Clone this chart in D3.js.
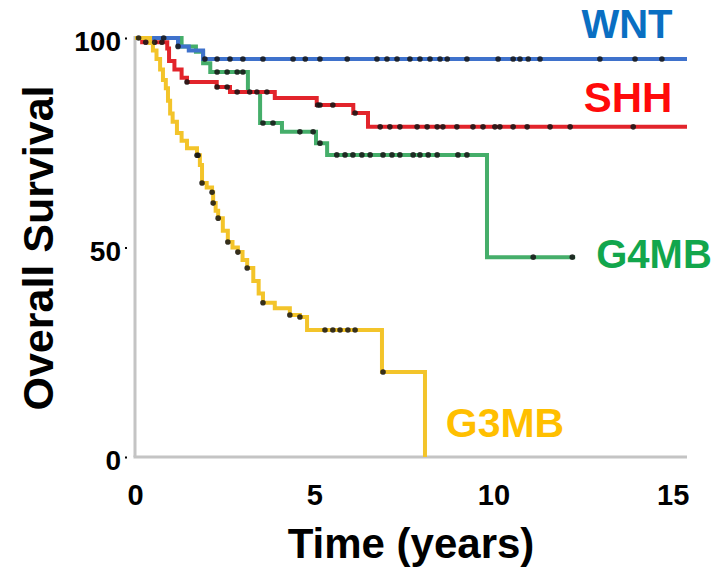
<!DOCTYPE html>
<html>
<head>
<meta charset="utf-8">
<script src="https://cdn.jsdelivr.net/npm/d3@7"></script>
<style>
  html, body { margin: 0; padding: 0; background: #ffffff; }
  svg { display: block; }
  text { font-family: "Liberation Sans", Arial, sans-serif; font-weight: bold; }
</style>
</head>
<body>
<svg id="chart" width="719" height="573"></svg>
<script>
// ---------------- data ----------------
const categories = ["WNT", "SHH", "G4MB", "G3MB"];

const wntTime = [0, 1.2, 1.5, 1.9];
const wntSurv = [100, 98, 97, 95];
const wntCensor = [0.1, 0.8, 1.2, 1.95, 2.29, 2.65, 3.01, 3.57, 4.41, 4.75, 5.16, 5.92, 6.75, 7.03, 7.31, 7.67, 7.95, 8.23, 8.51, 8.71, 9.26, 10.13, 10.55, 10.74, 10.97, 11.3, 12.97, 13.95, 14.7];

const shhTime = [0, 0.2, 0.9, 0.95, 1.1, 1.3, 1.45, 2.28, 2.65, 3.9, 5.07, 6.09, 6.5];
const shhSurv = [100, 99, 97.5, 94.5, 92.5, 90.5, 89.5, 88.3, 87.1, 85.7, 84.0, 82.1, 78.8];
const shhCensor = [0.3, 0.55, 0.75, 1.45, 2.29, 2.57, 2.85, 3.2, 3.4, 3.68, 5.1, 5.16, 5.52, 6.14, 6.84, 7.11, 7.39, 7.87, 8.15, 8.43, 8.59, 8.98, 9.43, 9.71, 10.04, 10.18, 10.55, 10.94, 11.58, 12.14, 13.9];

const g4Time = [0, 1.3, 1.7, 1.9, 2.1, 3.15, 3.49, 4.1, 5.05, 5.36, 9.82];
const g4Surv = [100, 98, 96.7, 94, 91.9, 87.1, 79.7, 77.6, 74.9, 72.1, 47.7];
const g4Censor = [2.29, 2.57, 2.85, 3.01, 3.57, 3.85, 4.6, 4.97, 5.16, 5.63, 5.86, 6.08, 6.33, 6.56, 6.92, 7.17, 7.39, 7.76, 7.95, 8.18, 8.43, 9.01, 9.26, 11.11, 12.2];

const g3Time = [0, 0.42, 0.5, 0.6, 0.7, 0.78, 0.86, 0.92, 0.98, 1.05, 1.17, 1.3, 1.45, 1.73, 1.81, 1.87, 2.0, 2.15, 2.18, 2.25, 2.32, 2.45, 2.59, 2.72, 2.87, 3.0, 3.13, 3.3, 3.45, 3.57, 3.9, 4.32, 4.6, 4.8, 6.89, 8.09];
const g3Surv = [100, 98.8, 97, 95, 92.5, 90, 88, 85, 82, 80, 77.3, 75.5, 73.7, 72, 69.7, 65.4, 64.3, 63.2, 60.6, 58.8, 57, 54, 51.3, 50, 48.9, 47, 45.1, 42, 39, 36.8, 35.5, 33.9, 33.4, 30.3, 20.3, 0];
const g3Censor = [1.73, 1.76, 1.87, 2.15, 2.18, 2.32, 2.59, 2.87, 3.13, 3.57, 4.32, 4.6, 5.3, 5.52, 5.72, 5.94, 6.14, 6.92];

const seriesEnd = [15.4, 15.4, 12.28, 8.09];

const xTicks = [0, 5, 10, 15];
const yTicks = [0, 50, 100];
const xTitle = "Time (years)";
const yTitle = "Overall Survival";

// ---------------- build ----------------
const lineColors = {WNT: "#3f72cc", SHH: "#e2242b", G4MB: "#45ae6a", G3MB: "#f3c42a"};
const labelColors = {WNT: "#0a6fc2", SHH: "#ff0a0a", G4MB: "#12a64c", G3MB: "#ffbf00"};

const series = [
  {name: "WNT", time: wntTime, surv: wntSurv, censor: wntCensor, end: seriesEnd[0]},
  {name: "SHH", time: shhTime, surv: shhSurv, censor: shhCensor, end: seriesEnd[1]},
  {name: "G4MB", time: g4Time, surv: g4Surv, censor: g4Censor, end: seriesEnd[2]},
  {name: "G3MB", time: g3Time, surv: g3Surv, censor: g3Censor, end: seriesEnd[3]}
];

const svg = d3.select("#chart");
const x = d3.scaleLinear().domain([0, 15.4]).range([135, 687]);
const y = d3.scaleLinear().domain([0, 100]).range([457, 38]);

// axes lines
const axisG = svg.append("g");
axisG.append("line").attr("x1", x(0)).attr("x2", x(0)).attr("y1", y(100) - 2).attr("y2", y(0))
  .attr("stroke", "#c4c4c4").attr("stroke-width", 3);
axisG.append("line").attr("x1", x(0) - 1.5).attr("x2", x(15.4)).attr("y1", y(0)).attr("y2", y(0))
  .attr("stroke", "#c4c4c4").attr("stroke-width", 3);

// y ticks with d3 axis
const yAxis = d3.axisLeft(y).tickValues(yTicks).tickSize(2).tickPadding(4).tickFormat(d3.format("d"));
const yg = svg.append("g").attr("transform", `translate(${x(0) - 8},0)`).call(yAxis);
yg.select(".domain").remove();
yg.selectAll(".tick line").attr("stroke", "#000").attr("stroke-width", 2);
yg.selectAll(".tick text").attr("font-size", 28).attr("fill", "#000").attr("dy", "0.45em")
  .style("font-family", '"Liberation Sans", Arial, sans-serif').style("font-weight", "bold");

const xAxis = d3.axisBottom(x).tickValues(xTicks).tickSize(0).tickPadding(27).tickFormat(d3.format("d"));
const xg = svg.append("g").attr("transform", `translate(0,${y(0)})`).call(xAxis);
xg.select(".domain").remove();
xg.selectAll(".tick text").attr("font-size", 29).attr("fill", "#000")
  .style("font-family", '"Liberation Sans", Arial, sans-serif').style("font-weight", "bold");

// titles
svg.append("text").attr("x", 411).attr("y", 558).attr("text-anchor", "middle")
  .attr("font-size", 42).attr("fill", "#000").text(xTitle);
svg.append("text").attr("transform", `translate(53,248) rotate(-90)`).attr("text-anchor", "middle")
  .attr("font-size", 43).attr("fill", "#000").text(yTitle);

// curves
const line = d3.line().x(d => x(d[0])).y(d => y(d[1])).curve(d3.curveStepAfter);
function stepPoints(s) {
  const pts = s.time.map((t, i) => [t, s.surv[i]]);
  const last = pts[pts.length - 1];
  if (s.end > last[0]) pts.push([s.end, last[1]]);
  return pts;
}
function survAt(s, t) {
  let v = s.surv[0];
  for (let i = 0; i < s.time.length; i++) if (s.time[i] <= t) v = s.surv[i];
  return v;
}

const drawOrder = ["G4MB", "WNT", "SHH", "G3MB"];
const curvesG = svg.append("g");
drawOrder.forEach(name => {
  const s = series.find(d => d.name === name);
  curvesG.append("path").datum(stepPoints(s)).attr("d", line)
    .attr("fill", "none").attr("stroke", lineColors[name]).attr("stroke-width", 4)
    .attr("stroke-linejoin", "miter");
});

// censor marks
const dotsG = svg.append("g");
series.forEach(s => {
  dotsG.selectAll(null).data(s.censor).join("circle")
    .attr("cx", d => x(d)).attr("cy", d => y(survAt(s, d)))
    .attr("r", 2.8).attr("fill", "#151515").attr("opacity", 0.85);
});

// labels
const labelPos = {
  WNT: {x: 627, y: 38},
  SHH: {x: 628, y: 112},
  G4MB: {x: 654, y: 268},
  G3MB: {x: 505, y: 437}
};
const labelSize = {WNT: 40, SHH: 42, G4MB: 40, G3MB: 41};
categories.forEach(c => {
  svg.append("text").attr("x", labelPos[c].x).attr("y", labelPos[c].y).attr("text-anchor", "middle")
    .attr("font-size", labelSize[c]).attr("fill", labelColors[c]).text(c);
});
</script>
</body>
</html>
